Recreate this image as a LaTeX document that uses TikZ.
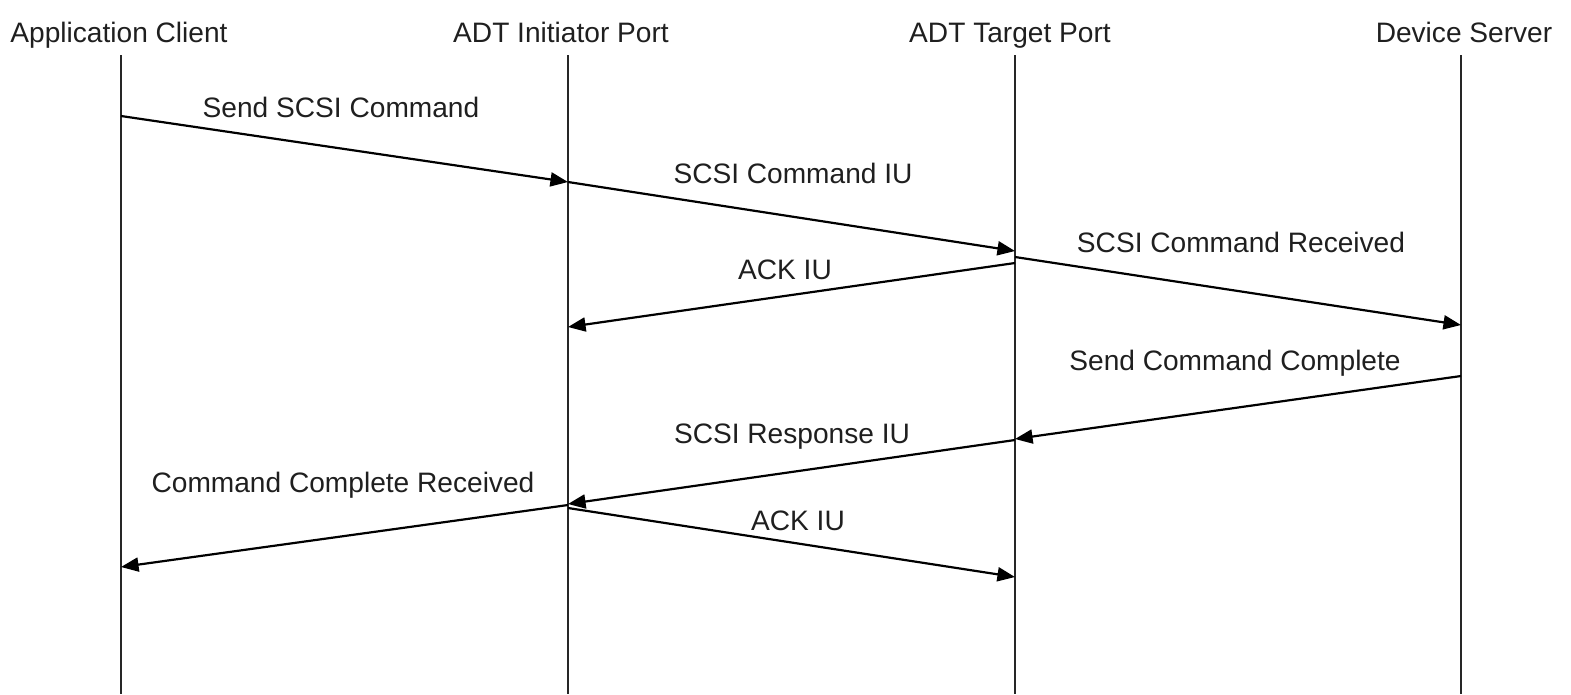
\documentclass[tikz,border=0pt]{standalone}
\usepackage{fontspec}
\setmainfont{Liberation Sans}
\usetikzlibrary{arrows.meta}
\begin{document}
\begin{tikzpicture}[x=0.02cm,y=-0.02cm,
  lbl/.style={anchor=base,inner sep=0pt,text=black!88,font=\fontsize{16}{19}\selectfont},
  life/.style={line width=1.2pt,black!85},
  msg/.style={line width=1.25pt,-{Triangle[length=10pt,width=8pt]}}]
\useasboundingbox (0,0) rectangle (1571,694);
% headers
\node[lbl] (hA) at (119,42) {Application Client};
\node[lbl] (hB) at (561,42) {ADT Initiator Port};
\node[lbl] (hC) at (1010,42) {ADT Target Port};
\node[lbl] (hD) at (1464,42) {Device Server};
% lifelines
\coordinate (At) at (121,55);  \coordinate (Ab) at (121,694);
\coordinate (Bt) at (568,55);  \coordinate (Bb) at (568,694);
\coordinate (Ct) at (1015,55); \coordinate (Cb) at (1015,694);
\coordinate (Dt) at (1461,55); \coordinate (Db) at (1461,694);
\draw[life] (At) -- (Ab);
\draw[life] (Bt) -- (Bb);
\draw[life] (Ct) -- (Cb);
\draw[life] (Dt) -- (Db);
% message points
\coordinate (m1s) at (121,116);  \coordinate (m1e) at (568,182);
\coordinate (m2s) at (568,182);  \coordinate (m2e) at (1015,251);
\coordinate (m3s) at (1015,263); \coordinate (m3e) at (568,327);
\coordinate (m4s) at (1015,257); \coordinate (m4e) at (1461,325);
\coordinate (m5s) at (1461,376); \coordinate (m5e) at (1015,439);
\coordinate (m6s) at (1015,440); \coordinate (m6e) at (568,504);
\coordinate (m7s) at (568,505);  \coordinate (m7e) at (121,567);
\coordinate (m8s) at (568,508);  \coordinate (m8e) at (1015,577);
\draw[msg] (m1s) -- (m1e);
\draw[msg] (m2s) -- (m2e);
\draw[msg] (m3s) -- (m3e);
\draw[msg] (m4s) -- (m4e);
\draw[msg] (m5s) -- (m5e);
\draw[msg] (m6s) -- (m6e);
\draw[msg] (m7s) -- (m7e);
\draw[msg] (m8s) -- (m8e);
% labels
\node[lbl] (l1) at (341,117) {Send SCSI Command};
\node[lbl] (l2) at (793,183) {SCSI Command IU};
\node[lbl] (l3) at (785,279) {ACK IU};
\node[lbl] (l4) at (1241,252) {SCSI Command Received};
\node[lbl] (l5) at (1235,370) {Send Command Complete};
\node[lbl] (l6) at (792,443) {SCSI Response IU};
\node[lbl] (l7) at (343,492) {Command Complete Received};
\node[lbl] (l8) at (798,530) {ACK IU};
\end{tikzpicture}
\end{document}
